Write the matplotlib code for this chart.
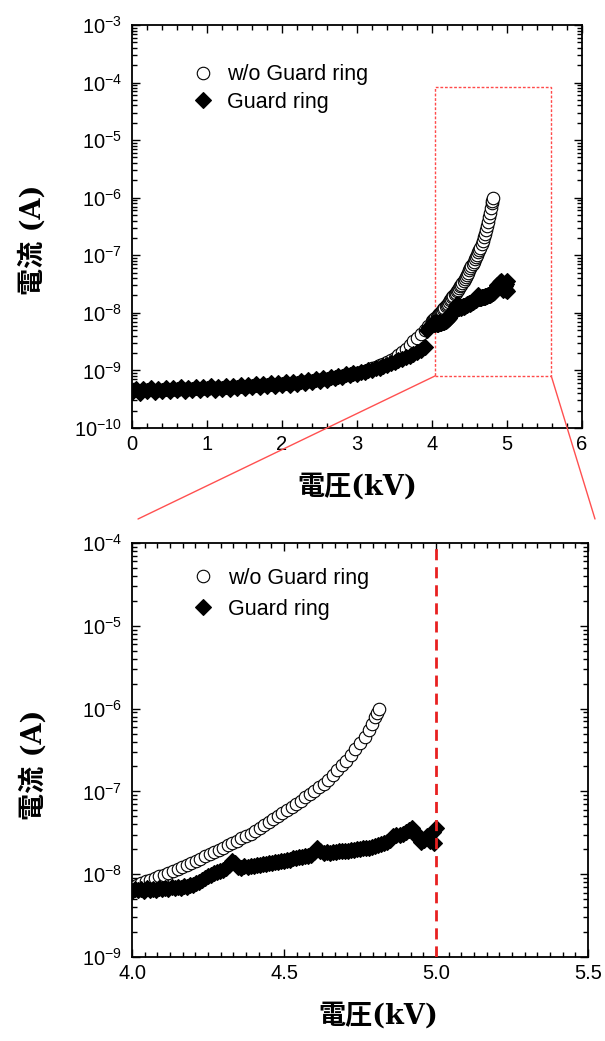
import numpy as np
import matplotlib
matplotlib.use("Agg")
import matplotlib.pyplot as plt
from matplotlib.ticker import MultipleLocator, LogLocator, FuncFormatter, NullFormatter, FormatStrFormatter
from matplotlib.patches import Rectangle, ConnectionPatch

plt.rcParams['font.family'] = ['Liberation Sans', 'DejaVu Sans']
plt.rcParams['mathtext.fontset'] = 'custom'
plt.rcParams['mathtext.rm'] = 'Liberation Sans'
plt.rcParams['mathtext.it'] = 'Liberation Sans:italic'
plt.rcParams['mathtext.bf'] = 'Liberation Sans:bold'

# w/o guard ring: voltage (kV) and leakage current (A)
v_wo = [0.0, 0.1, 0.2, 0.3, 0.4, 0.5, 0.6, 0.7, 0.8, 0.9,
        1.0, 1.1, 1.2, 1.3, 1.4, 1.5, 1.6, 1.7, 1.8, 1.9,
        2.0, 2.1, 2.2, 2.3, 2.4, 2.5, 2.6, 2.7, 2.8, 2.9,
        3.0, 3.05, 3.1, 3.15, 3.2, 3.25, 3.3, 3.35, 3.4, 3.45,
        3.5, 3.55, 3.6, 3.65, 3.7, 3.75, 3.8, 3.85, 3.9, 3.95,
        4.000, 4.015, 4.030, 4.045, 4.060, 4.075, 4.090, 4.105, 4.120, 4.135,
        4.150, 4.165, 4.180, 4.195, 4.210, 4.225, 4.240, 4.255, 4.270, 4.285,
        4.300, 4.315, 4.330, 4.345, 4.360, 4.375, 4.390, 4.405, 4.420, 4.435,
        4.450, 4.465, 4.480, 4.495, 4.510, 4.525, 4.540, 4.555, 4.570, 4.585,
        4.600, 4.615, 4.630, 4.645, 4.660, 4.675, 4.690, 4.705, 4.720, 4.735,
        4.750, 4.765, 4.778, 4.790, 4.800, 4.806, 4.811]
i_wo = [4.5e-10, 4.4e-10, 4.5e-10, 4.4e-10, 4.5e-10, 4.6e-10, 4.6e-10, 4.7e-10, 4.7e-10, 4.8e-10,
        4.8e-10, 4.9e-10, 5.0e-10, 5.0e-10, 5.1e-10, 5.2e-10, 5.3e-10, 5.4e-10, 5.5e-10, 5.6e-10,
        5.7e-10, 5.9e-10, 6.1e-10, 6.3e-10, 6.5e-10, 6.8e-10, 7.1e-10, 7.5e-10, 7.9e-10, 8.4e-10,
        9.0e-10, 9.4e-10, 9.8e-10, 1.03e-9, 1.09e-9, 1.15e-9, 1.22e-9, 1.30e-9, 1.40e-9, 1.52e-9,
        1.65e-9, 1.85e-9, 2.1e-9, 2.4e-9, 2.75e-9, 3.2e-9, 3.7e-9, 4.3e-9, 5.0e-9, 5.9e-9,
        7.1e-9, 7.4e-9, 7.8e-9, 8.2e-9, 8.6e-9, 9.0e-9, 9.4e-9, 9.9e-9, 1.03e-8, 1.09e-8,
        1.16e-8, 1.22e-8, 1.29e-8, 1.36e-8, 1.44e-8, 1.53e-8, 1.64e-8, 1.74e-8, 1.85e-8, 1.98e-8,
        2.10e-8, 2.24e-8, 2.39e-8, 2.54e-8, 2.70e-8, 2.88e-8, 3.10e-8, 3.35e-8, 3.63e-8, 3.93e-8,
        4.26e-8, 4.60e-8, 5.0e-8, 5.46e-8, 5.96e-8, 6.5e-8, 7.1e-8, 7.7e-8, 8.5e-8, 9.3e-8,
        1.02e-7, 1.12e-7, 1.24e-7, 1.36e-7, 1.56e-7, 1.79e-7, 2.06e-7, 2.36e-7, 2.77e-7, 3.26e-7,
        3.84e-7, 4.53e-7, 5.5e-7, 6.5e-7, 8.0e-7, 8.9e-7, 1.0e-6]

# with guard ring
v_gr = [0.00, 0.05, 0.10, 0.15, 0.20, 0.25, 0.30, 0.35, 0.40, 0.45,
        0.50, 0.55, 0.60, 0.65, 0.70, 0.75, 0.80, 0.85, 0.90, 0.95,
        1.00, 1.05, 1.10, 1.15, 1.20, 1.25, 1.30, 1.35, 1.40, 1.45,
        1.50, 1.55, 1.60, 1.65, 1.70, 1.75, 1.80, 1.85, 1.90, 1.95,
        2.00, 2.05, 2.10, 2.15, 2.20, 2.25, 2.30, 2.35, 2.40, 2.45,
        2.50, 2.55, 2.60, 2.65, 2.70, 2.75, 2.80, 2.85, 2.90, 2.95,
        3.00, 3.05, 3.10, 3.15, 3.20, 3.25, 3.30, 3.35, 3.40, 3.45,
        3.50, 3.55, 3.60, 3.65, 3.70, 3.75, 3.80, 3.85, 3.90, 3.93, 3.96,
        4.00, 4.01, 4.02, 4.03, 4.04, 4.05, 4.06, 4.07, 4.08, 4.09,
        4.10, 4.11, 4.12, 4.13, 4.14, 4.15, 4.16, 4.17, 4.18, 4.19,
        4.20, 4.21, 4.22, 4.23, 4.24, 4.25, 4.26, 4.27, 4.28, 4.29,
        4.30, 4.31, 4.32, 4.33, 4.34, 4.35, 4.36, 4.37, 4.38, 4.39,
        4.40, 4.41, 4.42, 4.43, 4.44, 4.45, 4.46, 4.47, 4.48, 4.49,
        4.50, 4.51, 4.52, 4.53, 4.54, 4.55, 4.56, 4.57, 4.58, 4.59,
        4.60, 4.61, 4.62, 4.63, 4.64, 4.65, 4.66, 4.67, 4.68, 4.69,
        4.70, 4.71, 4.72, 4.73, 4.74, 4.75, 4.76, 4.77, 4.78, 4.79,
        4.80, 4.81, 4.82, 4.83, 4.84, 4.85, 4.86, 4.87, 4.88, 4.89,
        4.90, 4.91, 4.92, 4.93, 4.94, 4.95, 4.96, 4.97, 4.98, 4.99,
        4.995, 5.00]
i_gr = [4.2e-10, 4.8e-10, 4.1e-10, 4.7e-10, 4.3e-10, 4.9e-10, 4.2e-10, 4.8e-10, 4.4e-10, 5.0e-10,
        4.3e-10, 4.9e-10, 4.5e-10, 5.1e-10, 4.4e-10, 5.0e-10, 4.6e-10, 5.2e-10, 4.5e-10, 5.1e-10,
        4.7e-10, 5.3e-10, 4.6e-10, 5.2e-10, 4.8e-10, 5.4e-10, 4.7e-10, 5.3e-10, 4.9e-10, 5.6e-10,
        4.9e-10, 5.5e-10, 5.1e-10, 5.8e-10, 5.1e-10, 5.7e-10, 5.3e-10, 6.0e-10, 5.3e-10, 6.0e-10,
        5.5e-10, 6.2e-10, 5.6e-10, 6.3e-10, 5.9e-10, 6.6e-10, 6.0e-10, 6.7e-10, 6.3e-10, 7.0e-10,
        6.6e-10, 7.3e-10, 6.9e-10, 7.7e-10, 7.3e-10, 8.1e-10, 7.7e-10, 8.5e-10, 8.2e-10, 9.0e-10,
        8.7e-10, 9.5e-10, 9.3e-10, 1.01e-9, 1.01e-9, 1.1e-9, 1.11e-9, 1.21e-9, 1.24e-9, 1.35e-9,
        1.39e-9, 1.51e-9, 1.57e-9, 1.71e-9, 1.79e-9, 1.96e-9, 2.08e-9, 2.3e-9, 2.5e-9, 5.0e-9, 5.6e-9,
        6.3e-9, 6.7e-9, 6.4e-9, 6.6e-9, 6.3e-9, 6.8e-9, 6.5e-9, 6.7e-9, 6.4e-9, 6.9e-9,
        6.6e-9, 6.8e-9, 6.6e-9, 7.0e-9, 6.8e-9, 7.1e-9, 6.9e-9, 7.3e-9, 7.1e-9, 7.5e-9,
        7.4e-9, 7.9e-9, 8.0e-9, 8.5e-9, 8.9e-9, 9.4e-9, 9.8e-9, 1.03e-8, 1.06e-8, 1.1e-8,
        1.12e-8, 1.18e-8, 1.3e-8, 1.45e-8, 1.35e-8, 1.22e-8, 1.2e-8, 1.24e-8, 1.22e-8, 1.27e-8,
        1.25e-8, 1.3e-8, 1.28e-8, 1.33e-8, 1.32e-8, 1.37e-8, 1.36e-8, 1.42e-8, 1.4e-8, 1.46e-8,
        1.45e-8, 1.5e-8, 1.5e-8, 1.56e-8, 1.55e-8, 1.6e-8, 1.6e-8, 1.66e-8, 1.67e-8, 1.72e-8,
        1.85e-8, 2.05e-8, 1.9e-8, 1.8e-8, 1.84e-8, 1.82e-8, 1.87e-8, 1.85e-8, 1.9e-8, 1.88e-8,
        1.93e-8, 1.92e-8, 1.97e-8, 1.96e-8, 2.01e-8, 2.0e-8, 2.06e-8, 2.05e-8, 2.1e-8, 2.12e-8,
        2.2e-8, 2.25e-8, 2.3e-8, 2.35e-8, 2.45e-8, 2.6e-8, 2.9e-8, 3.0e-8, 2.95e-8, 3.1e-8,
        3.25e-8, 3.45e-8, 3.6e-8, 3.2e-8, 2.7e-8, 2.45e-8, 2.6e-8, 2.9e-8, 2.5e-8, 3.2e-8,
        2.4e-8, 3.6e-8]

# zoom window marked on the full-range plot
zoom_v = (4.04, 5.59)
zoom_i = (8.0e-10, 8.3e-5)
limit_v = 5.0

label_font = ['DejaVu Serif', 'Noto Sans CJK JP']


def decade_label(val, pos):
    return r'$\mathregular{10^{%d}}$' % round(np.log10(val))


def style_axes(ax, xmajor, xminor, xfmt):
    ax.set_yscale('log')
    ax.yaxis.set_major_locator(LogLocator(base=10, numticks=20))
    ax.yaxis.set_minor_locator(LogLocator(base=10, subs=range(2, 10), numticks=20))
    ax.yaxis.set_major_formatter(FuncFormatter(decade_label))
    ax.yaxis.set_minor_formatter(NullFormatter())
    ax.xaxis.set_major_locator(MultipleLocator(xmajor))
    ax.xaxis.set_minor_locator(MultipleLocator(xminor))
    ax.xaxis.set_major_formatter(FormatStrFormatter(xfmt))
    ax.tick_params(which='both', direction='in', top=True, right=True, width=1.0, labelsize=14.5)
    ax.tick_params(which='major', length=6)
    ax.tick_params(which='minor', length=3.5)
    ax.tick_params(axis='x', pad=5)
    ax.tick_params(axis='y', pad=7)
    for sp in ax.spines.values():
        sp.set_linewidth(1.3)


def draw_series(ax):
    ax.plot(v_wo, i_wo, ls='none', marker='o', ms=9, mfc='white', mec='black', mew=0.8,
            label='w/o Guard ring', zorder=3)
    ax.plot(v_gr, i_gr, ls='none', marker='D', ms=8, mfc='black', mec='black', mew=0.8,
            label='Guard ring', zorder=4)


def add_legend(ax, anchor_y, spacing):
    ax.legend(loc='upper left', bbox_to_anchor=(0.133, anchor_y), frameon=False, fontsize=15.5,
              numpoints=1, handlelength=1.0, handletextpad=0.65, labelspacing=spacing,
              borderpad=0, borderaxespad=0)


fig = plt.figure(figsize=(6.05, 10.41), dpi=100)
ax1 = fig.add_axes([0.2182, 0.5889, 0.7438, 0.3871])
ax2 = fig.add_axes([0.2182, 0.0807, 0.7537, 0.3977])

# full range
draw_series(ax1)
style_axes(ax1, 1, 0.2, '%d')
ax1.set_xlim(0, 6)
ax1.set_ylim(1e-10, 1e-3)
add_legend(ax1, 0.902, 0.3)

ax1.add_patch(Rectangle((zoom_v[0], zoom_i[0]), zoom_v[1] - zoom_v[0], zoom_i[1] - zoom_i[0],
                        fill=False, ec='#ff4a4a', lw=1.0, ls=(0, (2.0, 1.3)), zorder=2))

# 4.0 - 5.5 kV close-up
draw_series(ax2)
style_axes(ax2, 0.5, 0.5 / 12, '%.1f')
ax2.set_xlim(4.0, 5.5)
ax2.set_ylim(1e-9, 1e-4)
ax2.axvline(limit_v, color='#e82020', lw=2.0, ls=(0, (4, 2.5)), zorder=5)
add_legend(ax2, 0.94, 0.45)

# lines joining the zoom window to the close-up
for vx, fx in [(zoom_v[0], 138 / 605), (zoom_v[1], 595 / 605)]:
    con = ConnectionPatch(xyA=(vx, zoom_i[0]), coordsA=ax1.transData,
                          xyB=(fx, 1 - 519 / 1041), coordsB=fig.transFigure,
                          color='#ff5050', lw=1.0)
    fig.add_artist(con)

for ax in (ax1, ax2):
    ax.set_xlabel('電圧(kV)', family=label_font, weight='bold', fontsize=19.5)
    ax.set_ylabel('電流 (A)', family=label_font, weight='bold', fontsize=19.5)
ax1.xaxis.set_label_coords(0.5, -0.113)
ax1.yaxis.set_label_coords(-0.189, 0.466)
ax2.xaxis.set_label_coords(0.54, -0.11)
ax2.yaxis.set_label_coords(-0.186, 0.464)

fig.savefig('out.png', dpi=100)
